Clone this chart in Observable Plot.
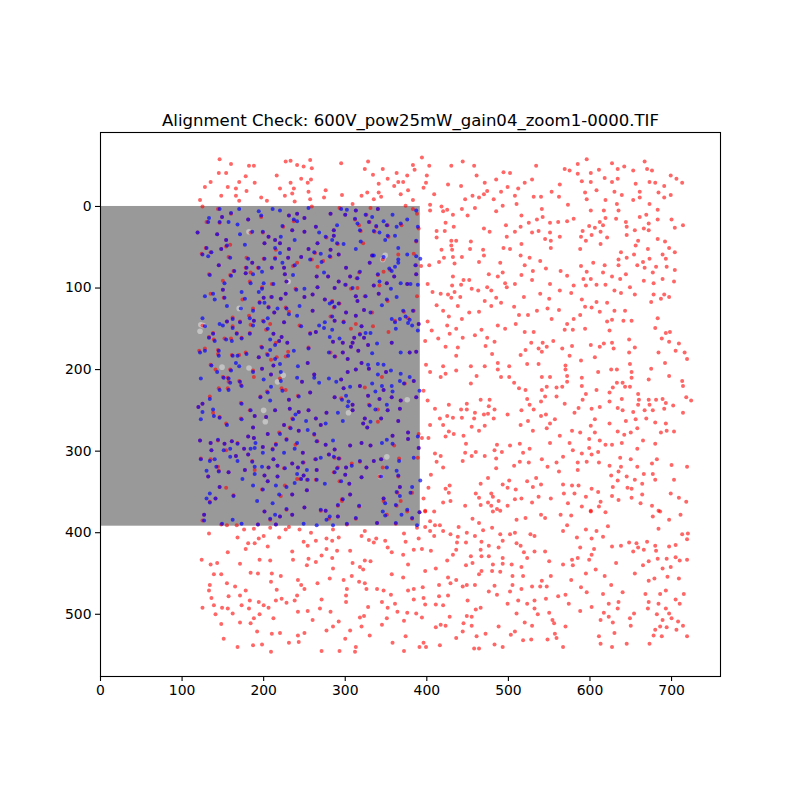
<!DOCTYPE html>
<html><head><meta charset="utf-8">
<script src="https://cdn.jsdelivr.net/npm/d3@7"></script>
<script src="https://cdn.jsdelivr.net/npm/@observablehq/plot@0.6"></script>
<style>html,body{margin:0;padding:0;background:#fff}svg{display:block}</style>
</head><body><div id="chart"></div>
<script>
const chartTitle = "Alignment Check: 600V_pow25mW_gain04_zoom1-0000.TIF";
const xTicks = [0,100,200,300,400,500,600,700];
const yTicks = [0,100,200,300,400,500];
const imageSize = 392;
// flat x,y lists in image pixels
const redOutside = [146,-58,160,-52,182,-50,188,-50,145,-41,154,-41,178,-37,135,-30,128,-24,170,-30,156,-24,166,-22,189,-29,179,-19,148,-13,166,-13,122,-8,170,-7,125,0,197,-11,204,-7,216,-38,227,-55,233,-56,241,-51,249,-49,246,-34,254,-29,233,-29,220,-22,237,-22,235,-16,226,-13,255,-18,238,-6,257,-57,257,-9,
259,-47,295,-53,328,-55,324,-46,346,-46,334,-39,394,-60,383,-51,385,-45,403,-50,430,-50,444,-55,458,-50,363,-41,376,-38,400,-38,461,-38,494,-42,502,-41,258,-33,352,-34,365,-30,371,-30,341,-28,360,-25,399,-29,396,-23,426,-27,442,-25,471,-29,485,-33,499,-24,276,-20,296,-14,327,-17,320,-13,341,-17,344,-12,368,-15,377,-20,409,-15,447,-9,456,-13,464,-11,470,-15,474,-19,491,-18,482,-9,274,-11,335,-9,383,-8,309,-3,404,-2,374,-1,493,-1,418,0,443,3,459,2,425,4,420,6,404,5,432,10,450,11,485,6,497,23,423,20,433,25,412,30,422,30,470,27,477,31,412,38,498,37,430,42,436,42,454,43,430,48,418,53,431,53,453,52,469,53,494,51,502,52,470,60,432,62,443,62,421,63,415,68,434,70,464,68,490,69,393,73,403,72,476,83,493,81,487,86,432,86,445,90,452,90,401,95,496,94,442,96,431,97,498,99,455,101,463,103,474,99,479,103,407,105,417,107,426,108,434,105,430,112,441,111,485,112,471,116,491,118,412,121,438,122,479,122,420,128,452,130,464,129,427,135,443,138,
596,-58,585,-52,534,-50,569,-46,575,-44,585,-40,601,-41,611,-45,627,-53,634,-46,642,-49,653,-44,667,-55,670,-46,676,-44,699,-38,706,-34,713,-29,529,-33,520,-29,512,-22,563,-27,590,-31,601,-30,618,-35,627,-30,634,-34,656,-28,673,-30,680,-29,691,-25,508,-13,531,-12,540,-12,553,-18,562,-12,594,-17,608,-20,630,-18,639,-14,661,-18,684,-17,699,-14,596,-9,619,-8,653,-8,661,-11,691,-11,510,-3,573,-2,633,-3,673,-3,541,3,601,5,617,5,635,5,683,4,516,11,542,13,619,14,661,13,669,10,632,15,580,15,572,18,561,19,551,20,535,16,525,20,683,16,700,16,612,19,644,19,672,21,714,23,515,25,599,24,606,26,616,23,645,25,666,27,672,29,655,29,704,26,508,31,529,32,537,30,551,32,591,30,613,31,602,35,589,37,645,35,563,37,545,40,552,42,595,42,621,38,683,40,692,43,659,42,516,46,613,46,656,48,697,51,552,51,588,52,671,52,638,56,704,56,515,60,526,63,654,59,689,59,693,64,645,63,635,65,673,64,539,67,665,68,604,69,520,72,618,72,635,72,658,72,589,73,681,74,694,74,667,75,546,76,530,79,564,79,596,80,616,81,704,78,644,83,677,81,516,84,572,85,627,86,592,89,601,89,637,89,689,89,529,90,666,91,703,92,678,94,508,95,551,95,580,97,595,97,608,96,619,96,649,99,563,103,630,103,638,106,577,106,539,107,655,108,678,108,691,108,697,111,687,113,519,111,550,113,590,114,675,117,608,117,621,118,507,123,594,123,602,124,548,125,562,127,535,128,630,128,643,128,612,129,513,133,524,133,588,133,580,138,553,138,627,139,641,140,651,140,683,137,621,141,
401,141,425,146,436,150,406,152,428,156,444,161,459,158,467,151,487,146,496,150,474,161,414,162,398,165,483,166,472,171,423,172,438,173,480,181,436,183,399,194,420,196,454,196,471,196,487,192,487,200,501,196,404,203,423,205,436,201,417,209,461,208,491,209,501,209,454,217,396,226,466,237,477,237,401,238,449,242,427,243,476,245,410,248,442,249,449,249,483,249,459,253,470,255,475,254,499,255,425,257,416,260,432,259,443,259,458,260,482,260,404,268,420,268,455,270,471,269,464,275,427,276,423,282,433,279,445,281,402,284,394,284,448,291,486,292,502,293,460,301,447,302,483,299,492,301,410,303,417,306,455,306,471,306,412,313,444,312,485,309,420,320,485,321,405,329,475,333,466,340,493,341,501,336,428,342,402,345,423,346,499,345,427,351,460,352,479,352,464,357,481,356,396,358,488,361,429,361,420,363,466,366,475,363,447,367,479,367,499,367,398,373,486,371,
509,144,572,144,569,151,579,151,594,150,520,154,531,154,624,152,680,149,693,155,698,154,528,167,542,167,555,165,648,163,688,162,697,166,709,168,547,172,537,174,521,176,578,171,601,170,612,172,617,168,627,167,566,174,629,174,655,173,541,178,515,182,575,183,648,179,684,179,705,177,716,179,606,185,589,189,719,187,523,193,537,193,570,195,649,193,692,192,570,200,675,199,626,200,633,200,610,203,651,203,541,209,551,209,572,208,590,210,651,210,697,208,672,212,713,214,572,215,507,216,633,216,640,216,566,221,590,220,547,221,559,222,628,222,643,221,649,221,714,220,513,223,521,225,541,225,608,225,624,228,595,230,659,230,545,233,559,233,639,236,523,236,591,237,660,237,672,237,681,237,689,236,718,234,724,238,540,239,624,239,693,241,569,242,526,243,659,243,673,243,702,244,586,247,612,246,634,247,602,248,691,248,516,250,531,249,640,250,653,252,667,250,677,250,714,253,581,253,540,257,546,255,557,261,524,263,606,261,644,263,656,261,669,260,551,266,515,268,601,269,624,266,680,265,693,266,547,272,658,272,530,275,578,275,588,277,606,277,634,276,650,277,694,275,687,277,703,276,642,280,563,281,599,285,665,287,612,287,514,291,551,290,575,290,619,292,627,292,639,290,680,291,526,297,599,296,658,297,579,299,610,301,518,302,590,303,602,304,567,307,637,308,650,310,682,310,541,310,514,313,525,314,559,314,585,314,596,313,611,314,676,315,507,318,548,319,624,318,638,319,658,319,700,317,719,319,585,323,562,325,635,325,666,328,677,328,626,330,645,331,534,333,655,335,680,335,703,335,634,336,523,337,540,341,567,341,578,342,586,342,664,340,530,344,628,344,602,346,646,345,651,346,509,347,610,350,568,352,581,352,627,355,664,353,699,352,537,356,595,356,651,357,709,357,508,359,516,358,552,358,635,360,613,362,718,362,529,363,573,364,662,364,676,367,590,368,611,368,601,373,684,373,
133,401,168,406,176,396,188,395,208,394,200,404,194,407,189,413,181,413,219,406,227,396,244,396,258,400,249,411,254,416,264,410,277,407,285,396,284,410,292,406,277,420,290,422,306,422,324,398,320,404,329,409,338,407,335,412,349,410,372,401,374,411,352,418,357,424,371,427,178,420,205,417,156,424,235,423,271,428,284,431,255,432,236,433,264,436,253,440,124,433,135,439,143,437,171,438,195,433,208,434,309,437,324,434,331,435,318,442,322,445,377,439,285,444,184,449,193,450,210,450,221,453,139,451,148,451,308,453,357,451,371,455,281,456,298,458,242,458,209,460,317,460,324,462,266,462,246,464,134,464,155,462,165,466,250,469,216,470,302,469,326,469,339,469,347,471,133,471,178,471,377,471,356,476,301,477,241,477,171,477,157,478,136,480,222,481,271,482,183,483,215,483,238,483,301,485,345,485,194,485,228,486,361,487,173,489,200,489,139,489,125,492,149,492,156,493,182,493,206,492,269,493,328,491,352,492,242,497,254,496,282,497,364,497,376,498,141,500,162,499,195,500,188,505,212,505,260,507,318,504,323,502,351,505,372,508,148,512,171,510,184,511,292,509,345,513,285,515,320,515,277,520,306,520,192,521,250,523,220,523,210,524,242,526,330,526,374,527,300,530,151,530,243,534,231,535,358,535,198,537,187,538,168,540,313,540,271,545,293,545,312,546,209,546,372,545,
398,374,409,374,404,386,410,391,416,391,398,393,388,394,439,393,404,398,420,398,409,404,429,402,438,405,449,400,459,404,469,397,480,394,456,383,464,388,481,374,490,373,510,384,521,382,540,378,545,382,564,378,577,379,572,391,567,398,601,374,619,375,622,392,595,396,608,398,677,380,686,374,697,384,711,378,684,395,713,402,720,401,719,408,490,402,502,402,508,400,527,402,532,404,390,407,584,406,602,407,616,405,467,411,493,410,437,412,448,412,510,413,515,416,476,416,488,418,588,418,605,420,627,417,638,416,648,412,657,413,659,418,670,411,680,416,697,417,705,415,384,421,394,420,405,422,436,421,466,421,519,424,532,423,545,423,602,427,653,423,666,421,681,422,432,427,454,429,467,429,476,429,493,431,523,431,585,431,578,433,599,433,683,432,694,432,705,430,710,434,719,433,425,434,550,435,632,437,672,435,456,437,493,438,481,439,504,439,448,440,567,439,579,440,516,442,665,440,699,442,689,444,398,447,411,444,467,447,480,447,490,448,607,445,595,450,655,450,464,451,505,453,518,453,552,453,618,453,695,454,426,455,436,458,679,456,709,456,541,459,577,458,672,459,429,462,415,464,449,464,459,464,444,466,483,465,505,464,626,464,529,466,539,466,547,466,589,467,384,469,395,467,516,469,693,471,476,472,502,472,596,473,640,473,616,475,668,475,686,475,715,475,486,476,570,476,426,477,415,478,561,478,396,480,546,481,705,482,384,482,450,483,512,483,532,483,635,485,672,485,499,487,523,487,574,487,623,487,684,487,710,487,398,488,411,488,420,489,602,491,466,492,460,494,532,493,634,493,671,493,693,493,588,496,550,498,510,499,536,500,617,498,654,499,682,500,697,499,387,499,449,502,455,503,428,503,394,504,623,503,554,507,613,507,649,505,689,507,700,505,556,511,520,510,628,510,708,509,445,511,417,513,423,514,455,514,529,514,570,515,650,514,714,514,411,516,488,515,680,519,686,515,694,516,706,519,444,521,508,521,557,524,503,525,472,524,630,523,678,526,688,527,719,527,461,527,436,529,559,529,611,527,548,531,528,531,518,532,396,535,613,536,645,536,673,536,483,537,391,540,399,540,416,538,493,540,567,540,627,540,458,542,464,542];
const redInside = [144,3,149,13,160,9,130,19,146,20,181,16,197,13,231,11,241,9,237,18,250,14,224,25,235,29,119,32,143,34,184,32,199,32,206,37,214,41,220,45,250,31,154,41,159,47,154,49,148,52,129,51,135,56,124,58,201,45,215,53,231,52,255,52,157,62,179,63,200,64,214,63,230,63,246,62,186,69,145,72,241,69,236,73,178,75,193,75,210,75,225,75,163,79,133,83,159,84,178,82,184,81,226,83,150,91,183,92,210,95,228,92,150,102,198,99,239,101,135,107,151,112,174,114,200,112,209,111,227,107,221,113,250,111,195,117,187,125,206,123,227,124,213,130,231,129,182,134,162,136,155,141,171,141,188,140,199,140,225,142,
259,0,293,2,282,9,313,5,331,2,340,3,383,3,388,9,300,10,326,10,312,16,330,19,317,23,338,25,352,23,369,23,264,25,390,27,286,29,319,30,336,31,286,36,277,38,353,37,322,45,266,45,291,46,387,43,282,53,292,59,384,58,365,59,333,60,263,57,282,62,346,65,259,65,273,67,330,69,266,74,387,72,301,75,355,78,347,80,317,81,340,84,387,83,265,86,279,86,306,86,314,88,360,86,292,92,376,95,351,94,342,97,335,97,315,100,307,101,266,99,287,100,301,96,260,108,313,110,324,110,341,107,388,110,275,114,284,116,315,116,352,116,293,119,286,124,260,128,323,127,372,129,384,128,301,130,333,130,313,134,282,135,377,137,361,140,298,141,
125,146,138,155,162,147,184,145,208,144,203,151,244,146,133,160,139,163,152,162,160,162,167,155,173,161,183,155,212,156,222,160,215,167,219,165,229,167,257,155,197,172,128,174,121,177,144,176,144,181,161,182,170,182,178,179,194,185,204,181,209,188,216,185,227,184,230,178,255,173,135,194,141,200,159,200,187,201,198,199,212,195,254,192,209,206,188,209,150,209,156,210,157,215,170,214,172,219,220,211,247,215,145,223,156,223,204,227,222,223,227,225,257,228,134,233,196,233,242,232,231,237,172,241,125,242,120,246,138,253,183,250,214,250,232,248,243,252,255,250,189,257,146,258,172,260,203,258,235,260,154,266,225,268,187,271,232,271,243,275,205,279,219,277,181,282,188,284,122,287,135,290,152,291,161,288,168,290,144,287,228,285,215,291,239,292,176,297,199,295,211,297,154,299,136,299,248,302,166,306,181,304,123,309,135,310,186,312,212,310,235,315,249,314,144,319,145,324,157,326,177,323,189,323,206,320,217,318,225,321,242,320,201,330,217,331,132,331,249,330,241,334,253,335,205,337,146,344,154,345,226,342,198,347,253,348,163,354,221,355,235,353,141,358,
287,140,313,144,334,147,390,144,307,150,320,147,264,154,353,154,318,156,311,161,323,161,285,166,297,167,309,167,328,170,357,167,307,172,282,179,297,179,316,177,387,178,379,179,288,184,303,187,320,192,329,199,303,203,313,200,262,206,345,209,350,203,295,212,373,217,384,214,298,223,318,220,324,222,347,225,328,232,287,234,295,235,342,236,357,234,387,234,368,238,309,243,329,243,277,253,309,250,340,249,352,250,367,248,264,260,324,260,344,260,340,264,365,263,322,266,270,268,327,271,377,277,262,280,390,279,358,281,266,288,320,290,276,292,306,293,331,293,360,293,377,285,390,296,287,298,280,304,287,308,293,309,263,310,318,313,335,312,344,310,366,309,389,308,308,315,291,320,301,320,326,320,346,320,265,323,286,326,365,331,300,329,320,332,245,334,264,335,342,331,293,337,305,340,367,344,364,351,382,351,306,353,347,358,296,359,
127,378,125,385,134,362,148,390,155,391,167,391,193,390,201,374,208,384,220,380,235,378,215,390,228,372,231,393,250,369,270,373,276,373,280,383,291,380,291,367,296,361,302,390,313,383,317,368,339,388,347,361,351,378,363,367,362,389,376,374,368,361,382,383,391,375];
const bluePoints = [146,3,170,3,194,6,211,3,220,5,255,2,133,14,149,13,160,8,132,19,146,19,157,19,168,22,181,16,197,11,231,11,241,9,237,16,241,18,250,14,223,24,235,29,119,32,143,34,171,34,186,31,199,31,206,37,221,37,214,41,220,45,238,41,250,31,154,41,177,47,155,48,148,52,130,51,136,56,125,59,132,61,201,45,214,51,220,57,231,52,255,52,159,63,181,64,201,64,214,64,230,63,246,62,257,65,186,69,145,72,223,69,238,72,179,75,194,75,210,75,225,75,164,79,198,80,134,84,160,85,178,82,187,83,226,83,236,84,152,94,184,94,200,94,212,95,228,92,150,102,173,105,194,105,198,101,240,102,250,101,138,107,128,110,177,113,152,112,200,112,210,111,227,107,221,113,250,111,140,114,195,118,201,118,155,122,172,125,187,128,206,124,217,125,228,125,244,122,213,130,231,132,241,134,125,137,162,138,183,137,205,137,155,141,188,140,200,141,225,142,171,142,
282,9,295,3,302,4,313,5,325,10,340,3,358,10,387,5,312,15,333,13,329,19,347,18,376,16,290,23,315,21,300,10,264,25,351,23,368,21,363,25,338,24,389,25,268,32,286,29,318,29,335,30,342,32,286,36,276,37,284,41,352,36,361,36,349,41,319,43,266,45,290,45,298,46,387,42,282,53,313,52,365,51,335,60,262,56,270,58,281,61,292,59,347,62,376,59,387,61,392,64,365,65,365,69,271,68,333,60,330,69,361,74,386,72,301,75,354,76,274,81,318,80,340,83,357,79,387,83,265,86,279,86,306,86,315,88,360,86,342,92,292,92,368,94,376,95,380,95,389,96,351,94,300,96,335,97,266,99,309,100,287,100,356,101,260,108,313,110,325,110,341,107,363,111,275,114,284,117,315,116,351,114,281,119,292,119,287,123,345,121,260,128,323,127,371,128,383,128,301,130,331,130,313,134,284,135,374,135,357,138,367,138,287,140,275,142,298,142,361,142,379,139,
128,147,146,144,150,146,162,149,187,146,205,150,246,147,133,161,138,156,140,165,154,163,161,165,167,156,173,162,183,156,212,156,208,163,222,160,219,165,214,170,229,167,257,156,198,173,208,176,255,174,122,179,128,177,145,177,145,183,162,183,168,183,179,181,194,185,205,182,214,187,230,183,237,177,166,192,136,195,170,196,212,195,220,193,242,196,254,192,143,203,160,201,187,203,198,199,221,203,209,206,151,210,123,211,157,211,159,216,171,215,173,220,200,212,221,214,241,210,247,215,209,221,146,225,157,225,205,228,223,226,257,228,134,236,196,234,243,233,231,237,208,238,173,242,125,242,120,246,125,252,138,249,139,257,184,250,214,250,232,248,243,252,255,250,189,257,146,259,123,261,173,261,203,258,239,255,236,261,252,263,155,268,225,268,187,271,233,272,254,274,243,275,205,279,220,279,181,282,188,284,122,287,144,286,135,290,152,291,161,288,168,291,190,290,228,286,215,292,241,290,159,297,176,297,184,297,189,296,199,295,211,298,151,299,136,299,238,297,199,302,225,302,248,302,159,307,166,306,181,304,123,310,134,312,140,310,168,312,186,313,212,310,235,315,248,314,142,319,145,325,157,326,177,323,189,319,198,319,206,320,217,318,226,321,242,320,253,323,130,324,189,328,241,328,132,331,174,334,201,330,217,331,249,330,246,334,254,335,205,337,238,339,146,344,187,342,215,342,228,344,199,347,253,348,134,352,163,355,219,353,235,353,130,358,141,358,
268,146,320,147,377,143,382,146,390,144,264,154,274,149,284,151,362,150,325,155,331,155,318,157,281,160,293,162,311,161,323,161,389,152,285,166,297,167,309,167,339,168,357,167,307,172,328,170,280,179,297,179,316,177,333,180,368,179,379,179,387,178,287,184,303,187,320,192,340,193,347,194,328,194,329,199,303,203,313,200,356,201,262,206,262,210,280,211,295,212,289,215,268,216,340,206,350,203,368,205,379,209,384,214,367,214,298,223,306,221,318,220,333,217,345,220,372,217,357,220,391,226,347,225,337,227,358,227,301,232,328,232,287,234,296,237,342,236,357,234,304,239,368,238,387,234,309,243,303,245,330,244,351,243,277,253,291,253,309,250,337,249,352,250,367,248,324,260,264,260,297,263,331,264,344,260,365,263,276,266,270,268,322,266,327,271,377,277,262,279,351,286,358,281,285,287,377,285,389,282,345,290,358,291,265,288,320,290,276,292,306,293,331,293,390,296,287,298,270,308,280,304,286,307,292,309,264,310,318,312,335,312,344,310,366,312,384,308,308,318,301,320,265,323,290,321,326,320,351,320,363,324,287,326,365,330,300,329,320,332,265,335,344,331,295,337,275,340,305,340,367,344,382,344,392,336,363,350,380,351,306,353,347,358,297,359,367,355,
127,378,134,363,127,385,149,389,173,389,162,384,193,390,192,361,211,364,201,374,208,383,214,378,220,380,235,378,215,390,228,371,250,369,249,389,270,372,276,373,265,391,285,391,281,380,277,384,291,380,291,366,302,389,313,382,317,367,339,388,349,364,346,374,349,379,362,366,362,388,369,378,376,372,391,375,382,382,388,391];
const glowSpots = [170,125,349,60,346,65,123,145,122,153,182,198,224,207,217,215,202,264,200,250,304,253,376,237,351,307,343,331,126,146,182,31,230,92,149,197];

const pairs = list => d3.range(0, list.length, 2).map(i => ({x: list[i], y: list[i + 1]}));
const red = pairs(redOutside.concat(redInside));
const blue = pairs(bluePoints);
const glow = pairs(glowSpots);

const chart = Plot.plot({
  width: 800, height: 800,
  marginLeft: 100, marginRight: 80, marginTop: 132, marginBottom: 124,
  style: {fontFamily: "DejaVu Sans", fontSize: "13.9px", background: "#fff", color: "#000"},
  x: {domain: [0, 760], label: null, axis: null},
  y: {domain: [-90.7, 576.3], reverse: true, label: null, axis: null},
  marks: [
    Plot.rect([{}], {x1: 0, x2: imageSize, y1: 0, y2: imageSize, fill: "#999999"}),
    Plot.dot(glow, {x: "x", y: "y", r: 2.8, fill: "#ffffff", fillOpacity: 0.4, stroke: "none"}),
    Plot.dot(red, {x: "x", y: "y", r: 2, fill: "#ff0000", fillOpacity: 0.6, stroke: "none"}),
    Plot.dot(blue, {x: "x", y: "y", r: 2, fill: "#0000ff", fillOpacity: 0.68, stroke: "none"}),
    Plot.frame({stroke: "#000", strokeWidth: 1.1}),
    Plot.axisX(xTicks, {anchor: "bottom", tickSize: 5, tickPadding: 4, strokeWidth: 1.1, label: null, tickFormat: d => String(d)}),
    Plot.axisY(yTicks, {anchor: "left", tickSize: 5, tickPadding: 4, strokeWidth: 1.1, label: null, tickFormat: d => String(d)}),
    Plot.text([chartTitle], {text: d => d, frameAnchor: "top", dy: -7, lineAnchor: "bottom", fontSize: 16.55, fill: "#000"})
  ]
});
document.getElementById("chart").appendChild(chart);
</script></body></html>
